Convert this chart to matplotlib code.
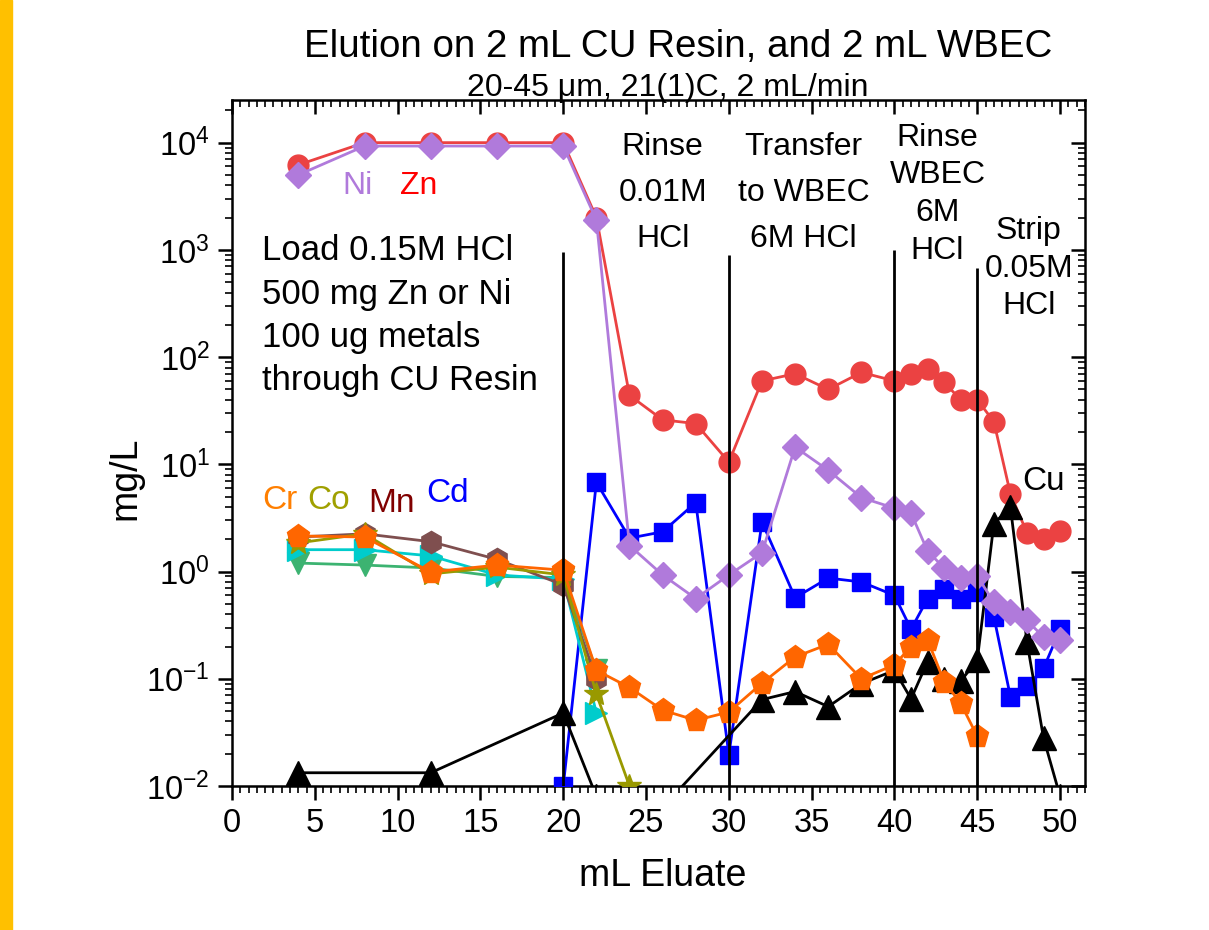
import numpy as np
import matplotlib
matplotlib.use("Agg")
import matplotlib.pyplot as plt
from matplotlib.ticker import MultipleLocator, LogLocator, NullFormatter
from matplotlib.patches import Rectangle

plt.rcParams['font.family'] = ['Liberation Sans', 'DejaVu Sans']
plt.rcParams['mathtext.default'] = 'regular'
plt.rcParams['axes.unicode_minus'] = False

# mL eluate / mg/L values
zn_x = [4, 8, 12, 16, 20, 22, 24, 26, 28, 30, 32, 34, 36, 38, 40, 41, 42, 43, 44, 45, 46, 47, 48, 49, 50]
zn = [6200, 10000, 10000, 10000, 10000, 2000, 44, 26, 24, 10.5, 60, 70, 50, 72, 60, 70, 78, 58, 40, 40, 25, 5.3, 2.3, 2.0, 2.4]

ni_x = [4, 8, 12, 16, 20, 22, 24, 26, 28, 30, 32, 34, 36, 38, 40, 41, 42, 43, 44, 45, 46, 47, 48, 49, 50]
ni = [5000, 9300, 9300, 9300, 9300, 1900, 1.75, 0.93, 0.56, 0.93, 1.5, 14.5, 8.8, 4.9, 3.9, 3.5, 1.55, 1.08, 0.87, 0.9, 0.52, 0.42, 0.35, 0.245, 0.23]

cd_x = [20, 22, 24, 26, 28, 30, 32, 34, 36, 38, 40, 41, 42, 43, 44, 45, 46, 47, 48, 49, 50]
cd = [0.01, 6.8, 2.05, 2.35, 4.4, 0.0196, 2.9, 0.57, 0.87, 0.8, 0.6, 0.29, 0.56, 0.69, 0.55, 0.65, 0.38, 0.068, 0.085, 0.125, 0.29]

cr_x = [4, 8, 12, 16, 20, 22, 24, 26, 28, 30, 32, 34, 36, 38, 40, 41, 42, 43, 44, 45]
cr = [2.15, 2.1, 0.99, 1.15, 1.03, 0.12, 0.083, 0.051, 0.041, 0.049, 0.091, 0.16, 0.21, 0.10, 0.135, 0.2, 0.23, 0.094, 0.059, 0.029]

co_x = [4, 8, 12, 16, 20, 22, 24]
co = [1.85, 2.25, 0.95, 1.1, 0.93, 0.072, 0.01]

mn_x = [4, 8, 12, 16, 20, 22]
mn = [2.1, 2.25, 1.9, 1.3, 0.75, 0.1]

cyan_x = [4, 8, 12, 16, 20, 22]
cyan = [1.6, 1.6, 1.4, 0.93, 0.85, 0.048]

green_x = [4, 8, 12, 16, 20, 22]
green = [1.2, 1.15, 1.08, 0.9, 0.88, 0.12]

cu_x = [4, 12, 20, 22, 24, 26, 32, 34, 36, 38, 40, 41, 42, 43, 44, 45, 46, 47, 48, 49, 50]
cu = [0.0133, 0.0133, 0.048, 0.008, 0.005, 0.0063, 0.064, 0.076, 0.055, 0.09, 0.12, 0.065, 0.145, 0.1, 0.095, 0.15, 2.8, 4.0, 0.22, 0.028, 0.008]

step_x = [20, 30, 40, 45]
step_top = [960, 900, 1000, 680]

fig = plt.figure(figsize=(12.09, 9.3), dpi=100)
fig.patches.append(Rectangle((0, 0), 12 / 1209, 1, transform=fig.transFigure,
                             color='#FFC000', zorder=0))
ax = fig.add_axes([0.1919, 0.1548, 0.7055, 0.7377])

lw = 2.0
ax.plot(zn_x, zn, '-o', color='#EB4242', ms=15, lw=lw, zorder=3)
ax.plot(cd_x, cd, '-s', color='#0000FF', ms=13, lw=lw, zorder=4)
ax.plot(green_x, green, '-v', color='#3CB371', ms=16, lw=lw, zorder=4)
ax.plot(cyan_x, cyan, '->', color='#00CCCC', ms=16, lw=lw, zorder=4)
ax.plot(mn_x, mn, '-h', color='#7F4F4F', ms=16, lw=lw, zorder=4)
ax.plot(co_x, co, '-*', color='#999900', ms=18, lw=lw, zorder=4)
ax.plot(cu_x, cu, '-^', color='black', ms=17, lw=lw, zorder=5)
ax.plot(cr_x, cr, '-p', color='#FF6600', ms=17, lw=lw, zorder=6)
ax.plot(ni_x, ni, '-D', color='#B07ADB', ms=13, lw=lw, zorder=6)
ax.vlines(step_x, 0.01, step_top, color='black', lw=2.0, zorder=7)

ax.set_yscale('log')
ax.set_xlim(0, 51.5)
ax.set_ylim(0.01, 25000)
ax.xaxis.set_major_locator(MultipleLocator(5))
ax.xaxis.set_minor_locator(MultipleLocator(0.5))
ax.yaxis.set_major_locator(LogLocator(base=10, numticks=20))
ax.yaxis.set_minor_locator(LogLocator(base=10, subs=np.arange(2, 10), numticks=20))
ax.yaxis.set_minor_formatter(NullFormatter())
ax.tick_params(axis='both', which='major', direction='out', length=10, width=1.8,
               labelsize=23.5, pad=6)
ax.tick_params(axis='both', which='minor', direction='out', length=5, width=1.2)
for s in ax.spines.values():
    s.set_linewidth(1.8)

# inward ticks on top and right
axr = ax.twinx()
axr.set_yscale('log')
axr.set_ylim(ax.get_ylim())
axr.yaxis.set_major_locator(LogLocator(base=10, numticks=20))
axr.yaxis.set_minor_locator(LogLocator(base=10, subs=np.arange(2, 10), numticks=20))
axr.tick_params(which='major', direction='in', length=10, width=1.8, labelright=False)
axr.tick_params(which='minor', direction='in', length=5, width=1.2, labelright=False)
axt = ax.twiny()
axt.set_xlim(ax.get_xlim())
axt.xaxis.set_major_locator(MultipleLocator(5))
axt.xaxis.set_minor_locator(MultipleLocator(0.5))
axt.tick_params(which='major', direction='in', length=10, width=1.8, labeltop=False)
axt.tick_params(which='minor', direction='in', length=5, width=1.2, labeltop=False)
for a in (axr, axt):
    a.spines[:].set_visible(False)

fs = 23
ax.text(7.55, 3900, 'Ni', color='#B07ADB', fontsize=fs, ha='center', va='center')
ax.text(11.3, 3900, 'Zn', color='#FF0000', fontsize=fs, ha='center', va='center')
ax.text(1.8, 1400, 'Load 0.15M HCl\n500 mg Zn or Ni\n100 ug metals\nthrough CU Resin',
        fontsize=25, ha='left', va='top', linespacing=1.4)
ax.text(2.9, 4.6, 'Cr', color='#FF7F00', fontsize=24, ha='center', va='center')
ax.text(5.86, 4.6, 'Co', color='#A0A000', fontsize=24, ha='center', va='center')
ax.text(9.64, 4.3, 'Mn', color='#800000', fontsize=24, ha='center', va='center')
ax.text(13.0, 5.3, 'Cd', color='#0000FF', fontsize=24, ha='center', va='center')
ax.text(49.0, 6.9, 'Cu', color='black', fontsize=24, ha='center', va='center')

ax.text(26.0, 3400, 'Rinse\n0.01M\nHCl', fontsize=fs, ha='center', va='center',
        linespacing=1.7, zorder=8)
ax.text(34.5, 3400, 'Transfer\nto WBEC\n6M HCl', fontsize=fs, ha='center', va='center',
        linespacing=1.7, zorder=8)
ax.text(42.6, 3300, 'Rinse\nWBEC\n6M\nHCl', fontsize=fs, ha='center', va='center',
        linespacing=1.34, zorder=8)
ax.text(48.1, 670, 'Strip\n0.05M\nHCl', fontsize=fs, ha='center', va='center',
        linespacing=1.34, zorder=8)

fig.text(0.561, 0.949, 'Elution on 2 mL CU Resin, and 2 mL WBEC', fontsize=27.7,
         ha='center', va='center')
fig.text(0.552, 0.905, '20-45 \u03bcm, 21(1)C, 2 mL/min', fontsize=23,
         ha='center', va='center')
fig.text(0.548, 0.058, 'mL Eluate', fontsize=27, ha='center', va='center')
fig.text(0.104, 0.486, 'mg/L', fontsize=27, ha='center', va='center', rotation=90)

fig.savefig('out.png', dpi=100)
